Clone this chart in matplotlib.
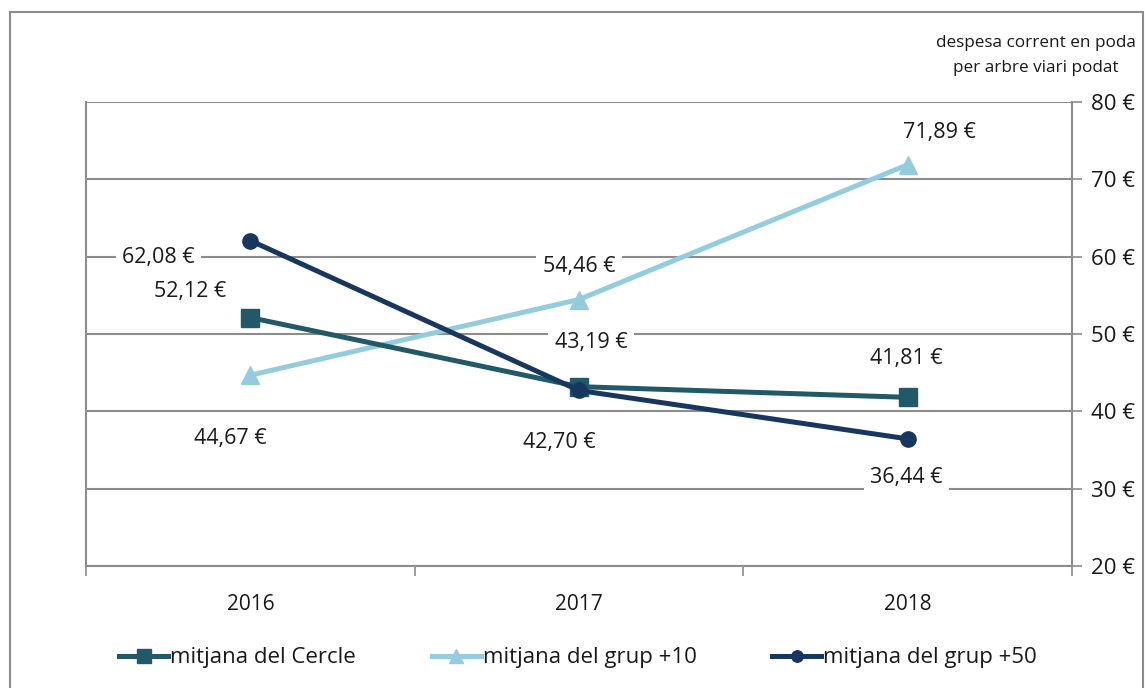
import matplotlib
matplotlib.use("Agg")
import matplotlib.pyplot as plt
from matplotlib.patches import Rectangle

plt.rcParams['font.family'] = ['Open Sans', 'DejaVu Sans']

years = ['2016', '2017', '2018']
cercle = [52.12, 43.19, 41.81]
grup10 = [44.67, 54.46, 71.89]
grup50 = [62.08, 42.70, 36.44]
y_ticks = [20, 30, 40, 50, 60, 70, 80]

# label offsets in pixels, one per point
off_cercle = [(-60, 26), (12, 44), (-1, 39)]
off_grup10 = [(-20, -63), (0, 33), (32, 32)]
off_grup50 = [(-92, -17), (-20, -52), (-1, -39)]

c_cercle = '#215968'
c_grup10 = '#93cddd'
c_grup50 = '#17375e'
grid_c = '#8c8c8c'
txt_c = '#1a1a1a'

fig = plt.figure(figsize=(11.45, 6.88), dpi=100)
ax = fig.add_axes([86/1145, 1 - 566/688, (1072 - 86)/1145, (566 - 102)/688])

xs = [0.5, 1.5, 2.5]
ax.plot(xs, cercle, color=c_cercle, lw=3.6, marker='s', markersize=13,
        label='mitjana del Cercle', zorder=4)
ax.plot(xs, grup10, color=c_grup10, lw=3.6, marker='^', markersize=13,
        label='mitjana del grup +10', zorder=3)
ax.plot(xs, grup50, color=c_grup50, lw=3.6, marker='o', markersize=11,
        label='mitjana del grup +50', zorder=5)

def fmt(v):
    return ('%.2f €' % v).replace('.', ',')

# value labels sit over the gridlines but under the series lines
for vals, offs in [(cercle, off_cercle), (grup10, off_grup10), (grup50, off_grup50)]:
    for x, v, o in zip(xs, vals, offs):
        ax.annotate(fmt(v), xy=(x, v), xytext=o, textcoords='offset pixels',
                    ha='center', va='center', fontsize=15.5, color=txt_c,
                    bbox=dict(boxstyle='square,pad=0.3', fc='white', ec='none'),
                    zorder=2)

ax.set_xlim(0, 3)
ax.set_ylim(20, 80)
ax.set_yticks(y_ticks)
ax.set_yticklabels(['%d €' % t for t in y_ticks])
ax.yaxis.tick_right()
ax.set_xticks(xs)
ax.set_xticklabels(years)
ax.set_xticks([0, 1, 2, 3], minor=True)
ax.tick_params(axis='x', which='major', length=0, pad=20, labelsize=15, labelcolor=txt_c)
ax.tick_params(axis='x', which='minor', length=7, color=grid_c, width=1.2)
ax.tick_params(axis='y', length=7, color=grid_c, width=1.2, pad=7, labelsize=16,
               labelcolor=txt_c)
ax.grid(axis='y', color=grid_c, lw=1.5, zorder=0)
ax.set_axisbelow(True)
for side in ['left', 'right', 'bottom']:
    ax.spines[side].set_color(grid_c)
    ax.spines[side].set_linewidth(1.5)
ax.spines['top'].set_visible(False)

fig.text(1036/1145, 1 - 43/688, 'despesa corrent en poda', ha='center', va='center',
         fontsize=12.3, color=txt_c)
fig.text(1036/1145, 1 - 68/688, 'per arbre viari podat', ha='center', va='center',
         fontsize=12.3, color=txt_c)

fig.legend(loc='center', bbox_to_anchor=(0.505, 1 - 658/688), ncol=3, frameon=False,
           fontsize=16, handlelength=2.2, handletextpad=0.1, columnspacing=3.4,
           markerscale=0.75, labelcolor=txt_c)

# outer frame
fig.patches.append(Rectangle((10/1145, -0.05), (1143 - 10)/1145, 1.05 - 12/688,
                             transform=fig.transFigure, fill=False, ec='#8c8c8c',
                             lw=1.5, clip_on=False))

fig.savefig('out.png', dpi=100)
